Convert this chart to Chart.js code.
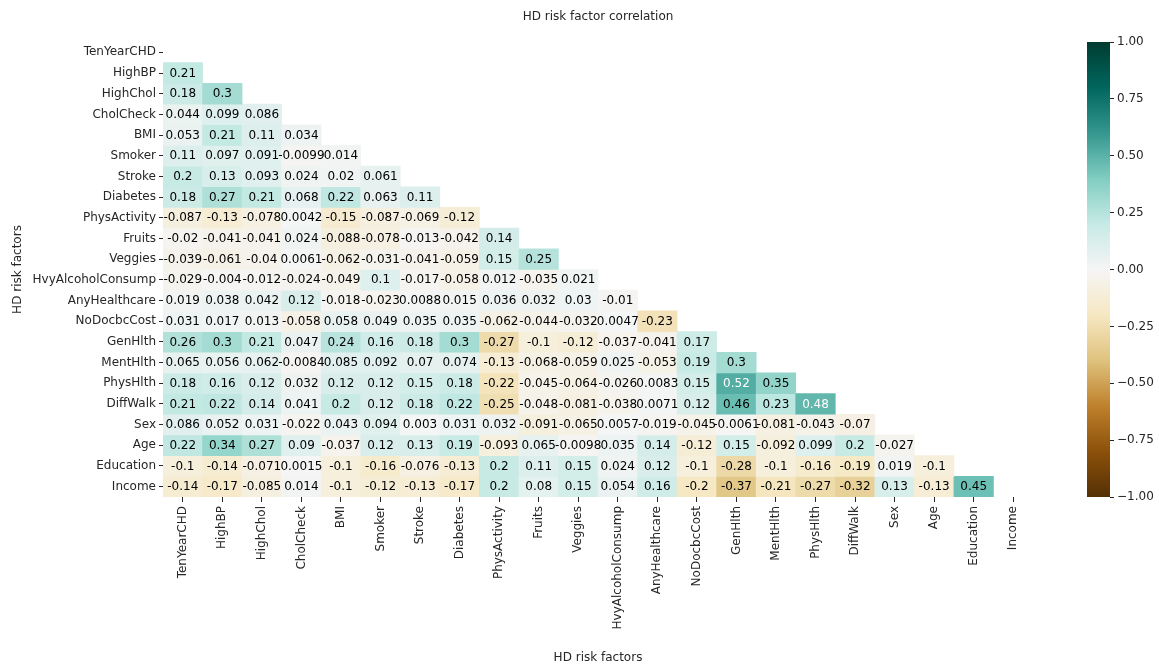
<!DOCTYPE html>
<html>
<head>
<meta charset="utf-8">
<title>HD risk factor correlation</title>
<script src="https://cdn.jsdelivr.net/npm/chart.js@4.4.1/dist/chart.umd.min.js"></script>
<style>
  html, body { margin: 0; padding: 0; background: #ffffff; }
  #wrap { position: relative; width: 1159px; height: 668px; }
  #heat { position: absolute; left: 0; top: 0; }
  #cbar { position: absolute; left: 1060px; top: 0; }
</style>
</head>
<body>
<div id="wrap">
  <canvas id="heat" width="1159" height="668"></canvas>
  <canvas id="cbar" width="99" height="668"></canvas>
</div>
<script>
// Risk factors, in row/column order of the correlation matrix
const factors = [
  'TenYearCHD', 'HighBP', 'HighChol', 'CholCheck', 'BMI', 'Smoker', 'Stroke',
  'Diabetes', 'PhysActivity', 'Fruits', 'Veggies', 'HvyAlcoholConsump',
  'AnyHealthcare', 'NoDocbcCost', 'GenHlth', 'MentHlth', 'PhysHlth',
  'DiffWalk', 'Sex', 'Age', 'Education', 'Income'
];

// Lower triangle of the correlation matrix: each row holds the
// correlations with every factor listed before it
const tenYearCHD = [];
const highBP = [0.21];
const highChol = [0.18, 0.3];
const cholCheck = [0.044, 0.099, 0.086];
const bmi = [0.053, 0.21, 0.11, 0.034];
const smoker = [0.11, 0.097, 0.091, -0.0099, 0.014];
const stroke = [0.2, 0.13, 0.093, 0.024, 0.02, 0.061];
const diabetes = [0.18, 0.27, 0.21, 0.068, 0.22, 0.063, 0.11];
const physActivity = [-0.087, -0.13, -0.078, 0.0042, -0.15, -0.087, -0.069, -0.12];
const fruits = [-0.02, -0.041, -0.041, 0.024, -0.088, -0.078, -0.013, -0.042, 0.14];
const veggies = [-0.039, -0.061, -0.04, 0.0061, -0.062, -0.031, -0.041, -0.059, 0.15, 0.25];
const hvyAlcoholConsump = [-0.029, -0.004, -0.012, -0.024, -0.049, 0.1, -0.017, -0.058, 0.012, -0.035, 0.021];
const anyHealthcare = [0.019, 0.038, 0.042, 0.12, -0.018, -0.023, 0.0088, 0.015, 0.036, 0.032, 0.03, -0.01];
const noDocbcCost = [0.031, 0.017, 0.013, -0.058, 0.058, 0.049, 0.035, 0.035, -0.062, -0.044, -0.032, 0.0047, -0.23];
const genHlth = [0.26, 0.3, 0.21, 0.047, 0.24, 0.16, 0.18, 0.3, -0.27, -0.1, -0.12, -0.037, -0.041, 0.17];
const mentHlth = [0.065, 0.056, 0.062, -0.0084, 0.085, 0.092, 0.07, 0.074, -0.13, -0.068, -0.059, 0.025, -0.053, 0.19, 0.3];
const physHlth = [0.18, 0.16, 0.12, 0.032, 0.12, 0.12, 0.15, 0.18, -0.22, -0.045, -0.064, -0.026, 0.0083, 0.15, 0.52, 0.35];
const diffWalk = [0.21, 0.22, 0.14, 0.041, 0.2, 0.12, 0.18, 0.22, -0.25, -0.048, -0.081, -0.038, 0.0071, 0.12, 0.46, 0.23, 0.48];
const sex = [0.086, 0.052, 0.031, -0.022, 0.043, 0.094, 0.003, 0.031, 0.032, -0.091, -0.065, 0.0057, -0.019, -0.045, -0.0061, -0.081, -0.043, -0.07];
const age = [0.22, 0.34, 0.27, 0.09, -0.037, 0.12, 0.13, 0.19, -0.093, 0.065, -0.0098, 0.035, 0.14, -0.12, 0.15, -0.092, 0.099, 0.2, -0.027];
const education = [-0.1, -0.14, -0.071, 0.0015, -0.1, -0.16, -0.076, -0.13, 0.2, 0.11, 0.15, 0.024, 0.12, -0.1, -0.28, -0.1, -0.16, -0.19, 0.019, -0.1];
const income = [-0.14, -0.17, -0.085, 0.014, -0.1, -0.12, -0.13, -0.17, 0.2, 0.08, 0.15, 0.054, 0.16, -0.2, -0.37, -0.21, -0.27, -0.32, 0.13, -0.13, 0.45];

// Colour bar tick values
const colorbarTicks = [-1, -0.75, -0.5, -0.25, 0, 0.25, 0.5, 0.75, 1];

const rows = [
  tenYearCHD, highBP, highChol, cholCheck, bmi, smoker, stroke, diabetes,
  physActivity, fruits, veggies, hvyAlcoholConsump, anyHealthcare, noDocbcCost,
  genHlth, mentHlth, physHlth, diffWalk, sex, age, education, income
];

// Diverging brown / blue-green palette, evenly spaced from -1 to 1
const BRBG = [
  [84, 48, 5], [140, 81, 10], [191, 129, 45], [223, 194, 125], [246, 232, 195],
  [245, 245, 245], [199, 234, 229], [128, 205, 193], [53, 151, 143], [1, 102, 94], [0, 60, 48]
];

function brbg(v) {
  const t = Math.min(1, Math.max(0, (v + 1) / 2)) * (BRBG.length - 1);
  const i = Math.min(BRBG.length - 2, Math.floor(t));
  const f = t - i;
  const a = BRBG[i], b = BRBG[i + 1];
  return [0, 1, 2].map(k => a[k] + (b[k] - a[k]) * f);
}

function rgbString(c) {
  return 'rgb(' + c.map(x => Math.round(x)).join(',') + ')';
}

// Relative luminance, used to pick dark or light annotation text
function luminance(c) {
  const lin = c.map(x => {
    const s = x / 255;
    return s <= 0.03928 ? s / 12.92 : Math.pow((s + 0.055) / 1.055, 2.4);
  });
  return 0.2126 * lin[0] + 0.7152 * lin[1] + 0.0722 * lin[2];
}

function fmt2g(v) {
  return String(Number(v.toPrecision(2)));
}

const FONT = "'DejaVu Sans', sans-serif";
const TEXT = '#262626';

// One floating-bar dataset per row; each cell spans [row, row + 1]
const datasets = rows.map((vals, r) => ({
  label: factors[r],
  data: factors.map((_, c) => (c < vals.length ? [r, r + 1] : null)),
  values: factors.map((_, c) => (c < vals.length ? vals[c] : null)),
  backgroundColor: factors.map((_, c) => (c < vals.length ? rgbString(brbg(vals[c])) : 'rgba(0,0,0,0)')),
  borderWidth: 0,
  barPercentage: 1,
  categoryPercentage: 1,
  grouped: false
}));

const cellLabels = {
  id: 'cellLabels',
  afterDatasetsDraw(chart) {
    const ctx = chart.ctx;
    ctx.save();
    ctx.font = '12px ' + FONT;
    ctx.textAlign = 'center';
    ctx.textBaseline = 'middle';
    chart.data.datasets.forEach((ds, di) => {
      const meta = chart.getDatasetMeta(di);
      meta.data.forEach((el, i) => {
        const v = ds.values[i];
        if (v === null || v === undefined) return;
        const p = el.getCenterPoint();
        ctx.fillStyle = luminance(brbg(v)) < 0.408 ? '#ffffff' : '#000000';
        ctx.fillText(fmt2g(v), p.x, p.y + 0.5);
      });
    });
    ctx.restore();
  }
};

const heading = {
  id: 'heading',
  afterDraw(chart) {
    const ca = chart.chartArea;
    const ctx = chart.ctx;
    ctx.save();
    ctx.font = '12px ' + FONT;
    ctx.fillStyle = TEXT;
    ctx.textAlign = 'center';
    ctx.textBaseline = 'middle';
    ctx.fillText('HD risk factor correlation', (ca.left + ca.right) / 2, 17);
    ctx.restore();
  }
};

new Chart(document.getElementById('heat'), {
  type: 'bar',
  data: { labels: factors, datasets },
  options: {
    responsive: false,
    animation: false,
    layout: { padding: { top: 42, right: 126, bottom: 0, left: 0 } },
    plugins: { legend: { display: false }, tooltip: { enabled: false } },
    scales: {
      x: {
        type: 'category',
        grid: { offset: false, drawOnChartArea: false, drawTicks: true, tickLength: 5, color: TEXT, tickWidth: 1 },
        border: { display: false },
        ticks: {
          autoSkip: false, minRotation: 90, maxRotation: 90, padding: 4,
          color: TEXT, font: { family: FONT, size: 12 }
        },
        title: {
          display: true, text: 'HD risk factors', color: TEXT,
          font: { family: FONT, size: 12 }, padding: { top: 0, bottom: 3 }
        },
        afterFit(scale) { scale.height = 171; }
      },
      y: {
        type: 'linear',
        min: 0,
        max: factors.length,
        reverse: true,
        grid: { drawOnChartArea: false, drawTicks: true, tickLength: 4, color: TEXT, tickWidth: 1 },
        border: { display: false },
        afterBuildTicks(scale) {
          scale.ticks = factors.map((_, i) => ({ value: i + 0.5 }));
        },
        ticks: {
          autoSkip: false, padding: 3, color: TEXT,
          font: { family: FONT, size: 12 },
          callback: (v) => factors[Math.floor(v)]
        },
        title: {
          display: true, text: 'HD risk factors', color: TEXT,
          font: { family: FONT, size: 12 }, padding: { top: 11, bottom: 0 }
        },
        afterFit(scale) { scale.width = 163; }
      }
    }
  },
  plugins: [cellLabels, heading]
});

// Colour bar: one floating bar from -1 to 1 filled with the palette gradient
new Chart(document.getElementById('cbar'), {
  type: 'bar',
  data: {
    labels: [''],
    datasets: [{
      data: [[-1, 1]],
      borderWidth: 0,
      barPercentage: 1,
      categoryPercentage: 1,
      backgroundColor(ctx) {
        const ca = ctx.chart.chartArea;
        if (!ca) return 'rgba(0,0,0,0)';
        const g = ctx.chart.ctx.createLinearGradient(0, ca.bottom, 0, ca.top);
        BRBG.forEach((c, i) => g.addColorStop(i / (BRBG.length - 1), rgbString(c)));
        return g;
      }
    }]
  },
  options: {
    responsive: false,
    animation: false,
    layout: { padding: { top: 42, right: 0, bottom: 171, left: 27 } },
    plugins: { legend: { display: false }, tooltip: { enabled: false } },
    scales: {
      x: { display: false },
      y: {
        position: 'right',
        min: -1,
        max: 1,
        grid: { drawOnChartArea: false, drawTicks: true, tickLength: 4, color: TEXT },
        border: { display: false },
        afterBuildTicks(scale) {
          scale.ticks = colorbarTicks.map(v => ({ value: v }));
        },
        ticks: {
          padding: 3, color: TEXT, font: { family: FONT, size: 12 },
          callback: (v) => (v < 0 ? '\u2212' : '') + Math.abs(v).toFixed(2)
        },
        afterFit(scale) { scale.width = 49; }
      }
    }
  }
});
</script>
</body>
</html>
